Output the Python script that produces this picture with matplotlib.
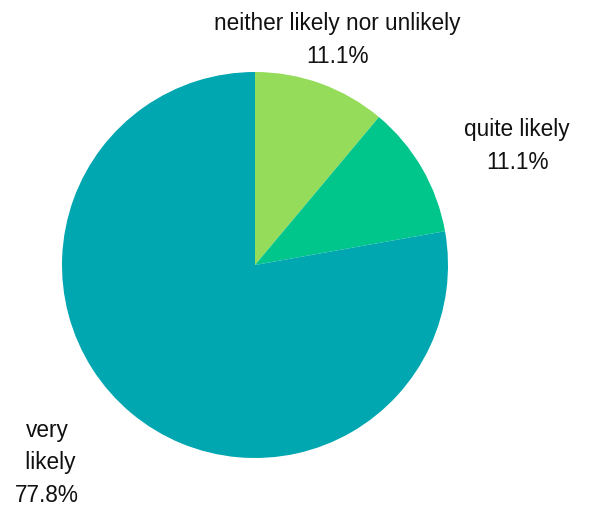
import matplotlib
matplotlib.use("Agg")
import matplotlib.pyplot as plt

labels = ["neither likely nor unlikely", "quite likely", "very\n likely"]
values = [11.1, 11.1, 77.8]
colors = ["#95dc5a", "#00c68c", "#00a6b0"]
# label anchor points in pixel space (x, y from top)
label_pos = [(337, 40), (517, 146), (47, 463)]

plt.rcParams["font.family"] = ["Liberation Sans", "DejaVu Sans"]

fig = plt.figure(figsize=(5.9, 5.08), dpi=100)
ax = fig.add_axes([0, 0, 1, 1])

# y axis is inverted below, so the angles are mirrored
wedges, _ = ax.pie(
    values,
    colors=colors,
    startangle=-90,
    counterclock=True,
    center=(255, 265),
    radius=193,
    frame=True,
    wedgeprops={"linewidth": 0},
)
ax.set_xlim(0, 590)
ax.set_ylim(508, 0)
ax.set_aspect("equal")
ax.axis("off")

for lab, val, (x, y) in zip(labels, values, label_pos):
    ax.text(x, y, f"{lab}\n{val:.1f}%", ha="center", va="center",
            fontsize=16.3, color="#111111", linespacing=1.55)

fig.savefig("out.png", dpi=100)
